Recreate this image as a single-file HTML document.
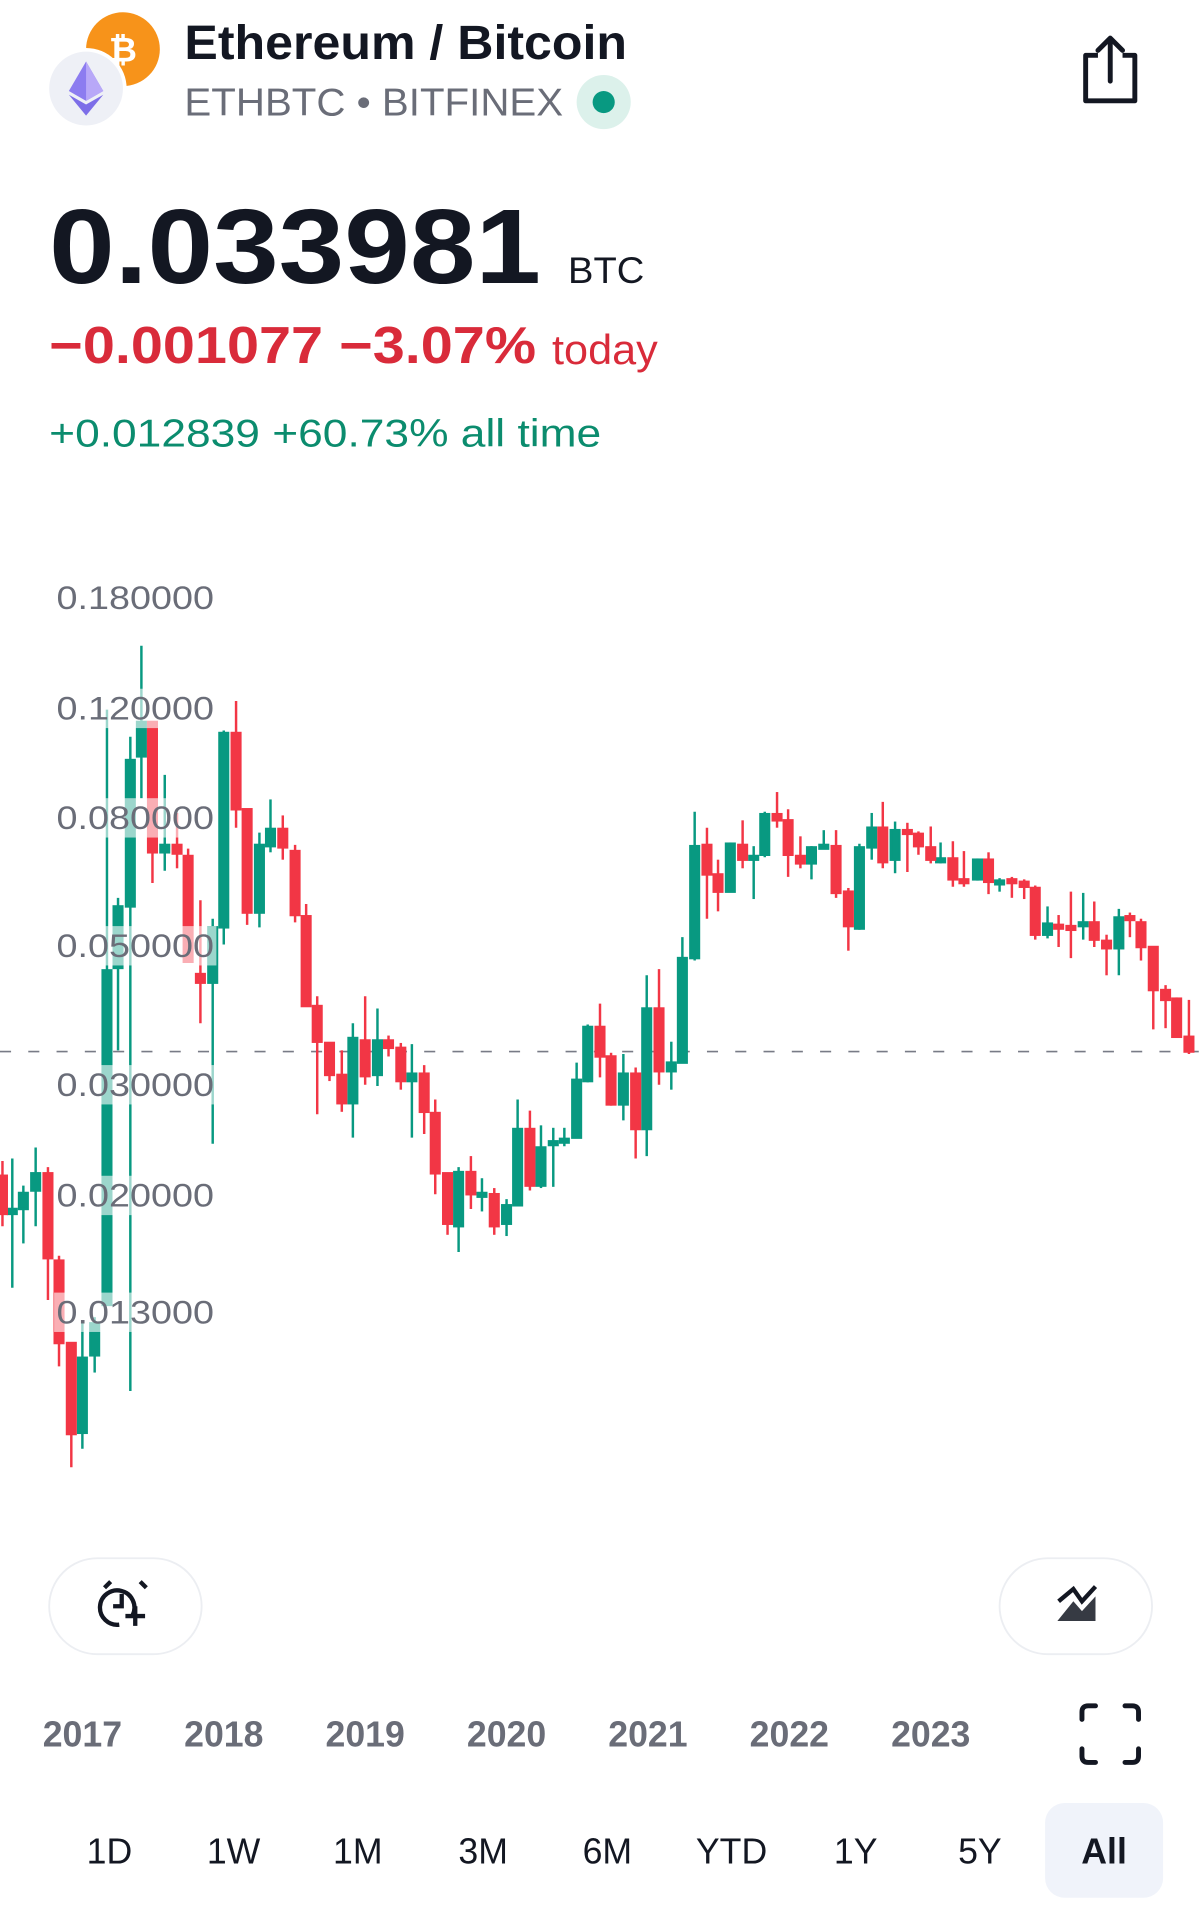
<!DOCTYPE html>
<html><head><meta charset="utf-8"><style>
html,body{margin:0;padding:0;background:#fff;}
svg{display:block;}
text{font-family:"Liberation Sans",sans-serif;}
</style></head><body>
<svg width="1200" height="1926" viewBox="0 0 976 1566" preserveAspectRatio="none" xmlns="http://www.w3.org/2000/svg">
<rect width="976" height="1566" fill="#fff"/>
<circle cx="100" cy="40" r="30" fill="#f7931a"/>
<text x="100" y="50" font-size="28" font-weight="bold" fill="#fff" text-anchor="middle">₿</text>
<circle cx="70" cy="72" r="33" fill="#fff"/>
<circle cx="70" cy="72" r="30" fill="#eef0f6"/>
<polygon points="70,50 56,74 70,82 84,74" fill="#8c7cf0"/>
<polygon points="70,50 70,82 84,74" fill="#b8a8f8"/>
<polygon points="56,77 70,94 84,77 70,85" fill="#7d6ee8"/>
<text x="150" y="48" font-size="39" font-weight="bold" fill="#131722" textLength="360" lengthAdjust="spacingAndGlyphs">Ethereum / Bitcoin</text>
<text x="150" y="94" font-size="32" fill="#6a6d78" textLength="308" lengthAdjust="spacingAndGlyphs">ETHBTC • BITFINEX</text>
<circle cx="491" cy="83" r="22" fill="#dcf1eb"/>
<circle cx="491" cy="83" r="9" fill="#089981"/>
<path d="M893 45 h-10 v37 h40 v-37 h-10" fill="none" stroke="#131722" stroke-width="4" stroke-linejoin="round"/>
<path d="M903 66 V32 M893 41 L903 31 L913 41" fill="none" stroke="#131722" stroke-width="4" stroke-linecap="round" stroke-linejoin="round"/>
<text x="40" y="230" font-size="86" font-weight="bold" fill="#131722" textLength="400" lengthAdjust="spacingAndGlyphs">0.033981</text>
<text x="462" y="230" font-size="30" fill="#131722" textLength="62" lengthAdjust="spacingAndGlyphs">BTC</text>
<text x="40" y="295" font-size="42" font-weight="bold" fill="#d92b3a" textLength="396" lengthAdjust="spacingAndGlyphs">−0.001077 −3.07%</text>
<text x="449" y="296" font-size="34" fill="#d92b3a" textLength="86" lengthAdjust="spacingAndGlyphs">today</text>
<text x="40" y="363" font-size="32" fill="#0b8c6e" textLength="449" lengthAdjust="spacingAndGlyphs">+0.012839 +60.73% all time</text>
<line x1="0" y1="855" x2="975" y2="855" stroke="#787b86" stroke-width="1.3" stroke-dasharray="9,14"/>
<g stroke-width="2">
<g fill="#089981" stroke="#089981">
<line x1="10" y1="942" x2="10" y2="1047"/><rect x="6.5" y="983" width="7" height="4"/>
<line x1="19" y1="964" x2="19" y2="1011"/><rect x="15.5" y="970" width="7" height="13"/>
<line x1="29" y1="933" x2="29" y2="997"/><rect x="25.5" y="954" width="7" height="14"/>
<line x1="67" y1="1076" x2="67" y2="1178"/><rect x="63.5" y="1104" width="7" height="61"/>
<line x1="77" y1="1071" x2="77" y2="1116"/><rect x="73.5" y="1076" width="7" height="26"/>
<line x1="87" y1="577" x2="87" y2="1061"/><rect x="83.5" y="789" width="7" height="272"/>
<line x1="96" y1="730" x2="96" y2="854"/><rect x="92.5" y="737" width="7" height="50"/>
<line x1="106" y1="599" x2="106" y2="1131"/><rect x="102.5" y="618" width="7" height="119"/>
<line x1="115" y1="525" x2="115" y2="649"/><rect x="111.5" y="587" width="7" height="28"/>
<line x1="134" y1="630" x2="134" y2="708"/><rect x="130.5" y="687" width="7" height="6"/>
<line x1="173" y1="747" x2="173" y2="930"/><rect x="169.5" y="754" width="7" height="45"/>
<line x1="182" y1="594" x2="182" y2="768"/><rect x="178.5" y="596" width="7" height="158"/>
<line x1="211" y1="677" x2="211" y2="754"/><rect x="207.5" y="687" width="7" height="55"/>
<line x1="220" y1="650" x2="220" y2="693"/><rect x="216.5" y="674" width="7" height="14"/>
<line x1="287" y1="832" x2="287" y2="925"/><rect x="283.5" y="844" width="7" height="53"/>
<line x1="307" y1="820" x2="307" y2="883"/><rect x="303.5" y="846" width="7" height="28"/>
<line x1="335" y1="849" x2="335" y2="925"/><rect x="331.5" y="873" width="7" height="6"/>
<line x1="373" y1="949" x2="373" y2="1018"/><rect x="369.5" y="953" width="7" height="44"/>
<line x1="392" y1="958" x2="392" y2="985"/><rect x="388.5" y="970" width="7" height="3"/>
<line x1="412" y1="975" x2="412" y2="1005"/><rect x="408.5" y="980" width="7" height="15"/>
<line x1="421" y1="894" x2="421" y2="980"/><rect x="417.5" y="918" width="7" height="62"/>
<line x1="440" y1="915" x2="440" y2="966"/><rect x="436.5" y="933" width="7" height="31"/>
<line x1="450" y1="917" x2="450" y2="965"/><rect x="446.5" y="928" width="7" height="3"/>
<line x1="459" y1="917" x2="459" y2="932"/><rect x="455.5" y="926" width="7" height="3"/>
<line x1="469" y1="864" x2="469" y2="925"/><rect x="465.5" y="878" width="7" height="47"/>
<line x1="478" y1="833" x2="478" y2="880"/><rect x="474.5" y="835" width="7" height="44"/>
<line x1="507" y1="857" x2="507" y2="911"/><rect x="503.5" y="873" width="7" height="25"/>
<line x1="526" y1="793" x2="526" y2="940"/><rect x="522.5" y="820" width="7" height="98"/>
<line x1="546" y1="847" x2="546" y2="886"/><rect x="542.5" y="864" width="7" height="7"/>
<line x1="555" y1="762" x2="555" y2="864"/><rect x="551.5" y="779" width="7" height="85"/>
<line x1="565" y1="660" x2="565" y2="781"/><rect x="561.5" y="688" width="7" height="91"/>
<line x1="594" y1="685" x2="594" y2="725"/><rect x="590.5" y="686" width="7" height="39"/>
<line x1="613" y1="688" x2="613" y2="731"/><rect x="609.5" y="696" width="7" height="3"/>
<line x1="622" y1="660" x2="622" y2="697"/><rect x="618.5" y="662" width="7" height="33"/>
<line x1="660" y1="688" x2="660" y2="715"/><rect x="656.5" y="689" width="7" height="13"/>
<line x1="670" y1="675" x2="670" y2="690"/><rect x="666.5" y="687" width="7" height="3"/>
<line x1="699" y1="686" x2="699" y2="756"/><rect x="695.5" y="689" width="7" height="66"/>
<line x1="709" y1="661" x2="709" y2="699"/><rect x="705.5" y="673" width="7" height="16"/>
<line x1="728" y1="668" x2="728" y2="710"/><rect x="724.5" y="675" width="7" height="24"/>
<line x1="765" y1="685" x2="765" y2="702"/><rect x="761.5" y="698" width="7" height="3"/>
<line x1="795" y1="698" x2="795" y2="716"/><rect x="791.5" y="699" width="7" height="16"/>
<line x1="813" y1="714" x2="813" y2="725"/><rect x="809.5" y="716" width="7" height="3"/>
<line x1="852" y1="737" x2="852" y2="763"/><rect x="848.5" y="751" width="7" height="9"/>
<line x1="881" y1="726" x2="881" y2="764"/><rect x="877.5" y="750" width="7" height="3"/>
<line x1="910" y1="739" x2="910" y2="793"/><rect x="906.5" y="746" width="7" height="25"/>
</g>
<g fill="#f23645" stroke="#f23645">
<line x1="2" y1="944" x2="2" y2="997"/><rect x="-1.5" y="956" width="7" height="31"/>
<line x1="39" y1="949" x2="39" y2="1057"/><rect x="35.5" y="954" width="7" height="69"/>
<line x1="48" y1="1021" x2="48" y2="1111"/><rect x="44.5" y="1025" width="7" height="67"/>
<line x1="58" y1="1092" x2="58" y2="1193"/><rect x="54.5" y="1092" width="7" height="74"/>
<line x1="124" y1="587" x2="124" y2="718"/><rect x="120.5" y="587" width="7" height="106"/>
<line x1="144" y1="661" x2="144" y2="706"/><rect x="140.5" y="687" width="7" height="7"/>
<line x1="153" y1="690" x2="153" y2="782"/><rect x="149.5" y="696" width="7" height="86"/>
<line x1="163" y1="732" x2="163" y2="832"/><rect x="159.5" y="792" width="7" height="7"/>
<line x1="192" y1="570" x2="192" y2="673"/><rect x="188.5" y="596" width="7" height="62"/>
<line x1="201" y1="658" x2="201" y2="752"/><rect x="197.5" y="658" width="7" height="84"/>
<line x1="230" y1="663" x2="230" y2="699"/><rect x="226.5" y="674" width="7" height="15"/>
<line x1="240" y1="687" x2="240" y2="750"/><rect x="236.5" y="692" width="7" height="52"/>
<line x1="249" y1="735" x2="249" y2="818"/><rect x="245.5" y="745" width="7" height="73"/>
<line x1="258" y1="810" x2="258" y2="906"/><rect x="254.5" y="818" width="7" height="29"/>
<line x1="268" y1="848" x2="268" y2="879"/><rect x="264.5" y="848" width="7" height="26"/>
<line x1="278" y1="854" x2="278" y2="904"/><rect x="274.5" y="874" width="7" height="23"/>
<line x1="297" y1="810" x2="297" y2="882"/><rect x="293.5" y="846" width="7" height="29"/>
<line x1="316" y1="842" x2="316" y2="859"/><rect x="312.5" y="846" width="7" height="6"/>
<line x1="326" y1="848" x2="326" y2="886"/><rect x="322.5" y="852" width="7" height="27"/>
<line x1="345" y1="866" x2="345" y2="922"/><rect x="341.5" y="873" width="7" height="31"/>
<line x1="354" y1="894" x2="354" y2="971"/><rect x="350.5" y="905" width="7" height="49"/>
<line x1="364" y1="954" x2="364" y2="1004"/><rect x="360.5" y="954" width="7" height="41"/>
<line x1="383" y1="940" x2="383" y2="983"/><rect x="379.5" y="953" width="7" height="18"/>
<line x1="402" y1="966" x2="402" y2="1004"/><rect x="398.5" y="971" width="7" height="26"/>
<line x1="431" y1="903" x2="431" y2="968"/><rect x="427.5" y="918" width="7" height="46"/>
<line x1="488" y1="816" x2="488" y2="876"/><rect x="484.5" y="835" width="7" height="24"/>
<line x1="497" y1="856" x2="497" y2="899"/><rect x="493.5" y="859" width="7" height="39"/>
<line x1="517" y1="868" x2="517" y2="942"/><rect x="513.5" y="873" width="7" height="45"/>
<line x1="536" y1="788" x2="536" y2="882"/><rect x="532.5" y="820" width="7" height="51"/>
<line x1="575" y1="673" x2="575" y2="747"/><rect x="571.5" y="687" width="7" height="24"/>
<line x1="584" y1="699" x2="584" y2="741"/><rect x="580.5" y="711" width="7" height="14"/>
<line x1="604" y1="667" x2="604" y2="706"/><rect x="600.5" y="687" width="7" height="12"/>
<line x1="632" y1="644" x2="632" y2="673"/><rect x="628.5" y="662" width="7" height="5"/>
<line x1="641" y1="658" x2="641" y2="713"/><rect x="637.5" y="667" width="7" height="28"/>
<line x1="651" y1="680" x2="651" y2="706"/><rect x="647.5" y="696" width="7" height="6"/>
<line x1="680" y1="675" x2="680" y2="730"/><rect x="676.5" y="688" width="7" height="38"/>
<line x1="690" y1="722" x2="690" y2="773"/><rect x="686.5" y="725" width="7" height="28"/>
<line x1="718" y1="652" x2="718" y2="706"/><rect x="714.5" y="673" width="7" height="28"/>
<line x1="738" y1="669" x2="738" y2="709"/><rect x="734.5" y="675" width="7" height="3"/>
<line x1="747" y1="676" x2="747" y2="695"/><rect x="743.5" y="678" width="7" height="10"/>
<line x1="757" y1="672" x2="757" y2="702"/><rect x="753.5" y="689" width="7" height="10"/>
<line x1="775" y1="684" x2="775" y2="721"/><rect x="771.5" y="698" width="7" height="17"/>
<line x1="784" y1="692" x2="784" y2="721"/><rect x="780.5" y="715" width="7" height="3"/>
<line x1="804" y1="693" x2="804" y2="727"/><rect x="800.5" y="699" width="7" height="18"/>
<line x1="823" y1="713" x2="823" y2="730"/><rect x="819.5" y="715" width="7" height="3"/>
<line x1="833" y1="715" x2="833" y2="731"/><rect x="829.5" y="717" width="7" height="4"/>
<line x1="842" y1="720" x2="842" y2="764"/><rect x="838.5" y="722" width="7" height="38"/>
<line x1="861" y1="744" x2="861" y2="770"/><rect x="857.5" y="752" width="7" height="3"/>
<line x1="871" y1="725" x2="871" y2="779"/><rect x="867.5" y="753" width="7" height="3"/>
<line x1="890" y1="733" x2="890" y2="770"/><rect x="886.5" y="750" width="7" height="14"/>
<line x1="900" y1="760" x2="900" y2="793"/><rect x="896.5" y="765" width="7" height="6"/>
<line x1="919" y1="742" x2="919" y2="762"/><rect x="915.5" y="745" width="7" height="3"/>
<line x1="928" y1="747" x2="928" y2="781"/><rect x="924.5" y="750" width="7" height="20"/>
<line x1="938" y1="770" x2="938" y2="837"/><rect x="934.5" y="770" width="7" height="35"/>
<line x1="948" y1="801" x2="948" y2="836"/><rect x="944.5" y="805" width="7" height="8"/>
<line x1="957" y1="811" x2="957" y2="843"/><rect x="953.5" y="812" width="7" height="31"/>
<line x1="967" y1="813" x2="967" y2="857"/><rect x="963.5" y="843" width="7" height="12"/>
</g>
</g>
<g fill="#fff" fill-opacity="0.6">
<rect x="44" y="470" width="132" height="32"/>
<rect x="44" y="560" width="132" height="32"/>
<rect x="44" y="649" width="132" height="32"/>
<rect x="44" y="753" width="132" height="32"/>
<rect x="44" y="866" width="132" height="32"/>
<rect x="44" y="956" width="132" height="32"/>
<rect x="44" y="1051" width="132" height="32"/>
</g>
<g font-size="26" fill="#6a6d78">
<text x="46" y="495" textLength="128" lengthAdjust="spacingAndGlyphs">0.180000</text>
<text x="46" y="585" textLength="128" lengthAdjust="spacingAndGlyphs">0.120000</text>
<text x="46" y="674" textLength="128" lengthAdjust="spacingAndGlyphs">0.080000</text>
<text x="46" y="778" textLength="128" lengthAdjust="spacingAndGlyphs">0.050000</text>
<text x="46" y="891" textLength="128" lengthAdjust="spacingAndGlyphs">0.030000</text>
<text x="46" y="981" textLength="128" lengthAdjust="spacingAndGlyphs">0.020000</text>
<text x="46" y="1076" textLength="128" lengthAdjust="spacingAndGlyphs">0.013000</text>
</g>
<rect x="40" y="1267" width="124" height="78" rx="39" fill="#fff" stroke="#eceef2" stroke-width="1.5"/>
<rect x="813" y="1267" width="124" height="78" rx="39" fill="#fff" stroke="#eceef2" stroke-width="1.5"/>
<g fill="none" stroke="#131722" stroke-width="3.5">
<path d="M108 1313 A14 14 0 1 0 97 1321"/>
<path d="M99 1296 V1306 H92"/>
<path d="M110 1306 V1322 M102 1314 H118"/>
<path d="M85 1291 L90 1286 M114 1286 L119 1291"/>
<path d="M861 1302 L873 1292 L880 1302 L891 1290"/>
</g>
<path d="M860 1318 L873 1302 L880 1310 L891 1298 V1318 Z" fill="#131722" opacity="0.85"/>
<g font-size="29" font-weight="bold" fill="#6a6d78" text-anchor="middle">
<text x="67" y="1420">2017</text><text x="182" y="1420">2018</text><text x="297" y="1420">2019</text>
<text x="412" y="1420">2020</text><text x="527" y="1420">2021</text><text x="642" y="1420">2022</text><text x="757" y="1420">2023</text>
</g>
<g fill="none" stroke="#131722" stroke-width="4" stroke-linecap="round">
<path d="M880 1398 V1392 Q880 1387 885 1387 H891"/>
<path d="M915 1387 H921 Q926 1387 926 1392 V1398"/>
<path d="M880 1422 V1428 Q880 1433 885 1433 H891"/>
<path d="M915 1433 H921 Q926 1433 926 1428 V1422"/>
</g>
<rect x="850" y="1466" width="96" height="77" rx="16" fill="#f0f3fa"/>
<g font-size="29" fill="#131722" text-anchor="middle">
<text x="89" y="1515">1D</text><text x="190" y="1515">1W</text><text x="291" y="1515">1M</text>
<text x="393" y="1515">3M</text><text x="494" y="1515">6M</text><text x="595" y="1515">YTD</text>
<text x="696" y="1515">1Y</text><text x="797" y="1515">5Y</text>
<text x="898" y="1515" font-weight="bold">All</text>
</g>
</svg>
</body></html>
